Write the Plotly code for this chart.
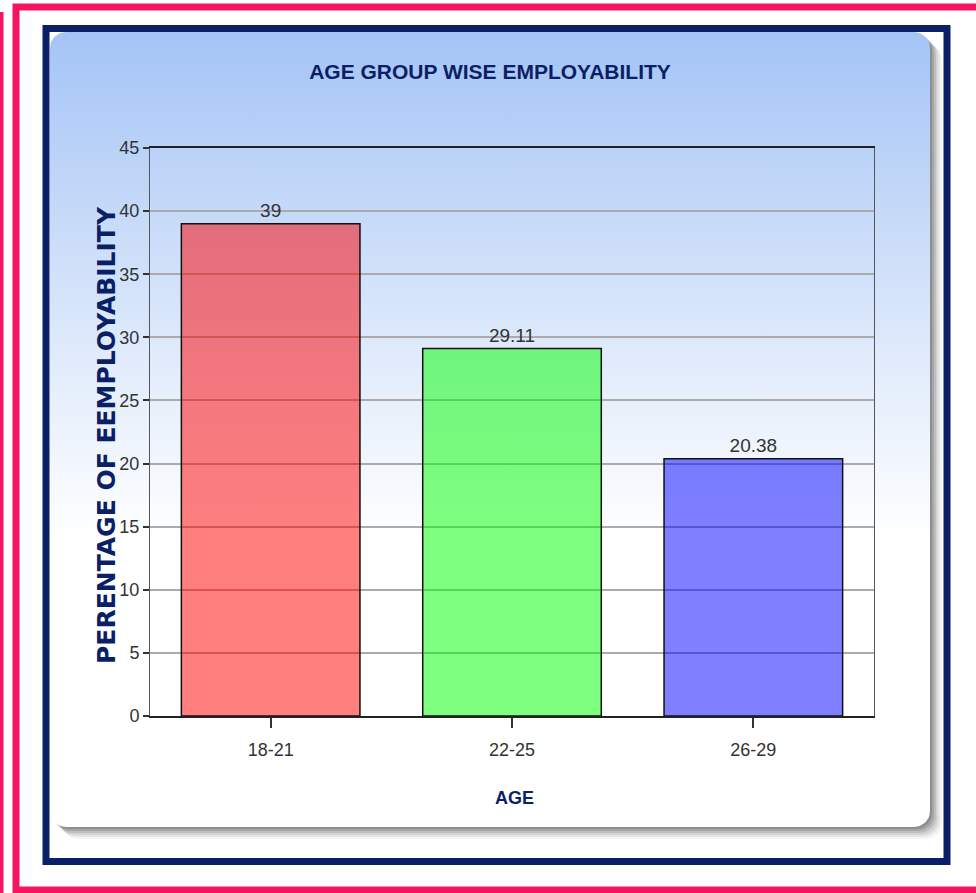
import numpy as np
import plotly.graph_objects as go

# ---- data ----
categories = ["18-21", "22-25", "26-29"]
values = [39, 29.11, 20.38]
value_labels = ["39", "29.11", "20.38"]
bar_colors = ["rgba(255,0,0,0.5)", "rgba(0,255,0,0.5)", "rgba(0,0,255,0.5)"]
y_ticks = list(range(0, 50, 5))

W, H = 976, 893
NAVY = "#0b1f66"
PINK = "#f5155f"
SANS = "Liberation Sans, Arial, sans-serif"


def Y(py):
    return H - py


def rounded_rect(x0, y0, x1, y1, r, n=12):
    pts = []
    corners = [
        (x1 - r, y0 + r, -90, 0),
        (x1 - r, y1 - r, 0, 90),
        (x0 + r, y1 - r, 90, 180),
        (x0 + r, y0 + r, 180, 270),
    ]
    for cx, cy, a0, a1 in corners:
        for a in np.linspace(np.radians(a0), np.radians(a1), n):
            pts.append((cx + r * np.cos(a), cy + r * np.sin(a)))
    pts.append(pts[0])
    xs = [p[0] for p in pts]
    ys = [Y(p[1]) for p in pts]
    return xs, ys


fig = go.Figure()

# shadow of the panel
for off, alpha in [(12, 0.04), (10, 0.06), (8, 0.08), (6, 0.10), (4, 0.12), (2, 0.14)]:
    xs, ys = rounded_rect(50 + off, 32 + off, 930 + off, 827 + off, 16)
    fig.add_trace(go.Scatter(x=xs, y=ys, mode="lines", fill="toself",
                             fillcolor=f"rgba(0,0,0,{alpha})", line=dict(width=0),
                             hoverinfo="skip", showlegend=False, xaxis="x", yaxis="y"))

# panel with vertical gradient
xs, ys = rounded_rect(50, 32, 930, 827, 16)
fig.add_trace(go.Scatter(
    x=xs, y=ys, mode="lines", fill="toself",
    fillgradient=dict(type="vertical", start=Y(827), stop=Y(32),
                      colorscale=[[0, "#ffffff"], [0.36, "#ffffff"],
                                  [0.60, "#dfeafb"], [1, "#a4c4f6"]]),
    line=dict(width=0), hoverinfo="skip", showlegend=False, xaxis="x", yaxis="y"))

# bars
fig.add_trace(go.Bar(
    x=categories, y=values, width=0.74,
    marker=dict(color=bar_colors, line=dict(color="#111111", width=1.5)),
    text=value_labels, textposition="outside", cliponaxis=False,
    textfont=dict(family=SANS, size=19, color="#333333"),
    hoverinfo="skip", showlegend=False, xaxis="x2", yaxis="y2"))

shapes = [
    dict(type="rect", xref="x", yref="y", x0=16, x1=W + 20, y0=Y(7), y1=Y(890),
         line=dict(color=PINK, width=7), fillcolor="rgba(0,0,0,0)"),
    dict(type="line", xref="x", yref="y", x0=1.5, x1=1.5, y0=Y(12), y1=Y(H),
         line=dict(color=PINK, width=4)),
    dict(type="rect", xref="x", yref="y", x0=46, x1=947, y0=Y(28.5), y1=Y(861.5),
         line=dict(color=NAVY, width=7), fillcolor="rgba(0,0,0,0)"),
]

annotations = [
    dict(text="<b>PERENTAGE OF EEMPLOYABILITY</b>", xref="paper", yref="paper",
         x=106 / W, y=(H - 435) / H, textangle=-90, showarrow=False,
         font=dict(family="DejaVu Sans, Verdana, sans-serif", size=25, color=NAVY),
         xanchor="center", yanchor="middle"),
    dict(text="<b>AGE</b>", xref="paper", yref="paper",
         x=514 / W, y=(H - 798) / H, showarrow=False,
         font=dict(family=SANS, size=18, color=NAVY),
         xanchor="center", yanchor="middle"),
]

fig.update_layout(
    width=W, height=H,
    margin=dict(l=0, r=0, t=0, b=0, autoexpand=False),
    paper_bgcolor="white", plot_bgcolor="rgba(0,0,0,0)",
    showlegend=False,
    title=dict(text="<b>AGE GROUP WISE EMPLOYABILITY</b>", x=490 / W, y=(H - 72) / H,
               xanchor="center", yanchor="middle",
               font=dict(family=SANS, size=21, color=NAVY)),
    xaxis=dict(domain=[0, 1], range=[0, W], visible=False, fixedrange=True),
    yaxis=dict(domain=[0, 1], range=[0, H], visible=False, fixedrange=True),
    xaxis2=dict(domain=[150 / W, 874 / W], anchor="y2", showline=True, mirror=True,
                linecolor="#222222", linewidth=2, ticks="outside", ticklen=10,
                tickcolor="#333333", tickwidth=1.5, showgrid=False,
                tickfont=dict(family=SANS, size=18, color="#333333"),
                ticklabelstandoff=6),
    yaxis2=dict(domain=[(H - 716) / H, (H - 148) / H], anchor="x2", range=[0, 45],
                tickvals=y_ticks, showline=True, mirror=True, linecolor="#555555",
                linewidth=1, ticks="outside", ticklen=6, tickcolor="#333333",
                tickwidth=1.5, showgrid=True, gridcolor="#ababab", gridwidth=1.5,
                zeroline=False,
                tickfont=dict(family=SANS, size=18, color="#333333")),
    shapes=shapes,
    annotations=annotations,
)

fig.write_html("out.html")
